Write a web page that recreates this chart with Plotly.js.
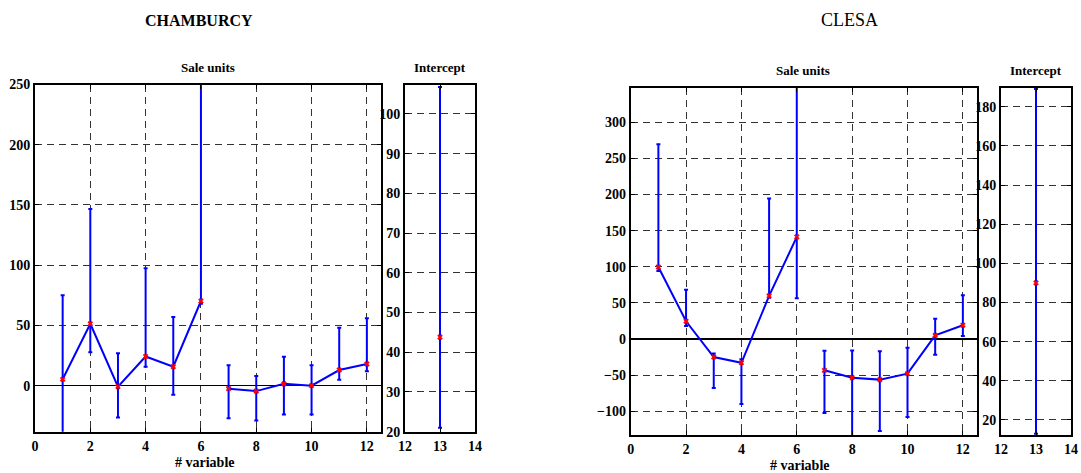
<!DOCTYPE html>
<html>
<head>
<meta charset="utf-8">
<script src="https://cdn.plot.ly/plotly-3.0.1.min.js"></script>
<style>html,body{margin:0;padding:0;background:#fff;}#chart{width:1081px;height:473px;}</style>
</head>
<body>
<div id="chart"></div>
<script>
// ---- Data ----
const variables = [1,2,3,4,5,6,7,8,9,10,11,12];

// CHAMBURCY
const chamValues = [5.3, 51.4, -0.8, 24.2, 15.8, 70.3, -2.5, -4.5, 1.5, 0, 13, 18];
const chamLower  = [-60, 27.8, -26.4, 15.8, -7.5, 68, -27, -29, -24, -24, 5, 12];
const chamUpper  = [75, 146.7, 27, 97.5, 57, 300, 17, 8, 24, 17, 48, 56];
const chamIntercept = [43.8];
const chamInterceptLower = [21];
const chamInterceptUpper = [106.8];

// CLESA
const clesaValues = [99.7, 24.5, -25, -33, 59.6, 141.4, -43.4, -53.6, -56.3, -48, 5, 19];
const clesaLower  = [94, 18, -68, -90, 57, 56.3, -102.5, -140, -127.4, -108, -21.7, 4];
const clesaUpper  = [269.8, 68.3, -20, -28, 194.6, 400, -16.2, -16, -17, -12, 28, 60.5];
const clesaIntercept = [90];
const clesaInterceptLower = [13];
const clesaInterceptUpper = [189];

const interceptX = [13];

// ---- Helpers ----
function errTrace(x, y, lo, hi, xa, ya) {
  return {
    x: x, y: y, xaxis: xa, yaxis: ya, type: 'scatter', mode: 'lines+markers',
    line: {color: '#0000ff', width: 2},
    marker: {symbol: 'x', color: '#ff0000', size: 5},
    error_y: {
      type: 'data', symmetric: false,
      array: y.map((v, i) => hi[i] - v),
      arrayminus: y.map((v, i) => v - lo[i]),
      color: '#0000ff', thickness: 2, width: 2
    },
    showlegend: false, hoverinfo: 'skip'
  };
}
function split(arr) { return [arr.slice(0, 6), arr.slice(6)]; }

const traces = [];
function addSeries(vals, lo, hi, xa, ya) {
  const [x1, x2] = split(variables);
  const [v1, v2] = split(vals);
  const [l1, l2] = split(lo);
  const [h1, h2] = split(hi);
  traces.push(errTrace(x1, v1, l1, h1, xa, ya));
  traces.push(errTrace(x2, v2, l2, h2, xa, ya));
}
addSeries(chamValues, chamLower, chamUpper, 'x', 'y');
traces.push(errTrace(interceptX, chamIntercept, chamInterceptLower, chamInterceptUpper, 'x2', 'y2'));
addSeries(clesaValues, clesaLower, clesaUpper, 'x3', 'y3');
traces.push(errTrace(interceptX, clesaIntercept, clesaInterceptLower, clesaInterceptUpper, 'x4', 'y4'));

const W = 1081, H = 473;
const fx = (a, b) => [a / W, b / W];
const fy = (top, bottom) => [(H - bottom) / H, (H - top) / H];

const SERIF = '"Liberation Serif", "DejaVu Serif", serif';
function axisBase(extra) {
  return Object.assign({
    showline: true, linecolor: '#000', linewidth: 2, mirror: 'ticks',
    ticks: 'inside', ticklen: 4, tickcolor: '#000', tickwidth: 1,
    tickfont: {family: SERIF, size: 14, color: '#000', weight: 'bold'},
    gridcolor: '#333', griddash: '7px,5px', gridwidth: 1,
    zeroline: false, automargin: false, fixedrange: true
  }, extra);
}

const layout = {
  width: W, height: H,
  margin: {l: 0, r: 0, t: 0, b: 0},
  paper_bgcolor: '#fff', plot_bgcolor: '#fff',
  font: {family: SERIF, color: '#000'},
  xaxis: axisBase({domain: fx(35, 380.7), range: [0, 12.5], tickvals: [0,2,4,6,8,10,12], showgrid: true, anchor: 'y'}),
  yaxis: axisBase({domain: fy(84.5, 431.7), range: [-38.2, 250], tickvals: [0,50,100,150,200,250], showgrid: true, zeroline: true, zerolinecolor: '#000', zerolinewidth: 1.5, anchor: 'x'}),
  xaxis2: axisBase({domain: fx(405, 475), range: [12, 14], tickvals: [12,13,14], showgrid: false, anchor: 'y2'}),
  yaxis2: axisBase({domain: fy(84.5, 431.7), range: [20, 107.4], tickvals: [20,30,40,50,60,70,80,90,100], showgrid: true, anchor: 'x2'}),
  xaxis3: axisBase({domain: fx(630.7, 976.7), range: [0, 12.5], tickvals: [0,2,4,6,8,10,12], showgrid: true, anchor: 'y3'}),
  yaxis3: axisBase({domain: fy(87.7, 435), range: [-133, 348], tickvals: [-100,-50,0,50,100,150,200,250,300], showgrid: true, zeroline: true, zerolinecolor: '#000', zerolinewidth: 1.5, anchor: 'x3'}),
  xaxis4: axisBase({domain: fx(1001, 1071), range: [12, 14], tickvals: [12,13,14], showgrid: false, anchor: 'y4'}),
  yaxis4: axisBase({domain: fy(87.7, 435), range: [12.3, 189.7], tickvals: [20,40,60,80,100,120,140,160,180], showgrid: true, anchor: 'x4'}),
  annotations: [
    {text: 'CHAMBURCY', x: 199, y: 20,
     font: {family: SERIF, size: 16, weight: 'bold', color: '#000'}},
    {text: 'CLESA', x: 849, y: 20,
     font: {family: SERIF, size: 18, color: '#000'}},
    {text: 'Sale units', x: 208, y: 68,
     font: {family: SERIF, size: 13, weight: 'bold', color: '#000'}},
    {text: 'Intercept', x: 440, y: 68,
     font: {family: SERIF, size: 13, weight: 'bold', color: '#000'}},
    {text: 'Sale units', x: 803, y: 70,
     font: {family: SERIF, size: 13, weight: 'bold', color: '#000'}},
    {text: 'Intercept', x: 1036, y: 70,
     font: {family: SERIF, size: 13, weight: 'bold', color: '#000'}},
    {text: '# variable', x: 205, y: 462,
     font: {family: SERIF, size: 14, weight: 'bold', color: '#000'}},
    {text: '# variable', x: 800, y: 465,
     font: {family: SERIF, size: 14, weight: 'bold', color: '#000'}}
  ].map(a => Object.assign({}, a, {showarrow: false, xref: 'paper', yref: 'paper', x: a.x / W, y: (H - a.y) / H, xanchor: 'center', yanchor: 'middle'}))
};

Plotly.newPlot('chart', traces, layout, {displayModeBar: false, staticPlot: true});
</script>
</body>
</html>
